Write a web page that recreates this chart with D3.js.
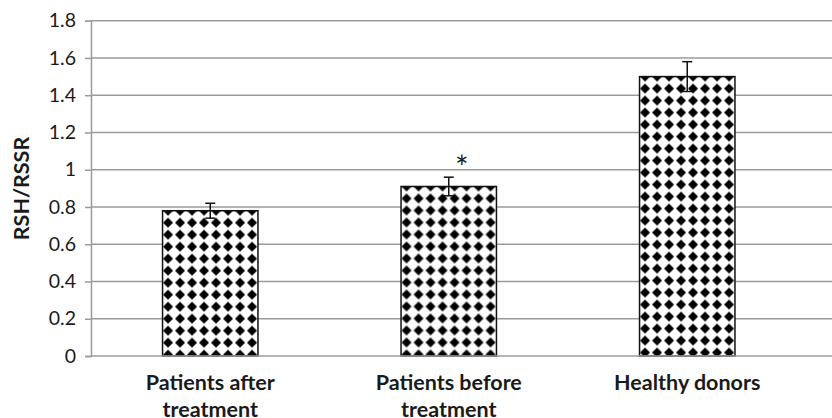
<!DOCTYPE html>
<html>
<head>
<meta charset="utf-8">
<script src="https://cdn.jsdelivr.net/npm/d3@7"></script>
<style>
  html, body { margin: 0; padding: 0; background: #fff; }
  svg { display: block; }
  text { font-family: Lato, "Open Sans", sans-serif; fill: #1a1a1a; }
</style>
</head>
<body>
<svg id="chart" width="832" height="418"></svg>
<script>
// Group labels (two lines each), mean RSH/RSSR and error
const categories = [["Patients after", "treatment"], ["Patients before", "treatment"], ["Healthy donors"]];
const values = [0.78, 0.91, 1.50];
const errors = [0.04, 0.05, 0.08];
const significance = ["", "*", ""];
const yTicks = [0, 0.2, 0.4, 0.6, 0.8, 1, 1.2, 1.4, 1.6, 1.8];
const yLabel = "RSH/RSSR";

const svg = d3.select("#chart");
const plotLeft = 91, plotRight = 806.5, plotTop = 20.7, plotBottom = 356;

const x = d3.scaleBand().domain(d3.range(categories.length)).range([plotLeft, plotRight]).paddingInner(0.6).paddingOuter(0.3);
const y = d3.scaleLinear().domain([0, 1.8]).range([plotBottom, plotTop]);

// Diamond fill, one tile per bar: first row of diamonds sits centred on the bar top
const defs = svg.append("defs");
const tile = 12;
values.forEach((v, i) => {
  const p = defs.append("pattern")
    .attr("id", "dia" + i)
    .attr("patternUnits", "userSpaceOnUse")
    .attr("width", tile).attr("height", tile)
    .attr("x", x(i) - 0.5).attr("y", y(v) - tile / 2);
  p.append("rect").attr("width", tile).attr("height", tile).attr("fill", "#fff");
  p.append("path").attr("d", `M6,1 L11,6 L6,11 L1,6 Z`).attr("fill", "#000");
});

// Horizontal gridlines
svg.append("g").selectAll("line").data(yTicks.filter(d => d > 0)).join("line")
  .attr("x1", plotLeft).attr("x2", 832)
  .attr("y1", d => y(d)).attr("y2", d => y(d))
  .attr("stroke", "#9a9a9a").attr("stroke-width", 1.5);

// Bars
svg.append("g").selectAll("rect").data(values).join("rect")
  .attr("x", (d, i) => x(i)).attr("width", x.bandwidth())
  .attr("y", d => y(d)).attr("height", d => y(0) - y(d))
  .attr("fill", (d, i) => `url(#dia${i})`)
  .attr("stroke", "#111").attr("stroke-width", 1.5);

// Baseline and y axis
svg.append("line").attr("x1", plotLeft).attr("x2", 832).attr("y1", y(0)).attr("y2", y(0))
  .attr("stroke", "#9a9a9a").attr("stroke-width", 1.5);

const yAxis = d3.axisLeft(y).tickValues(yTicks).tickSize(6).tickPadding(9)
  .tickFormat(d => d3.format("")(+d.toFixed(1)));
const ga = svg.append("g").attr("transform", `translate(${plotLeft},0)`).call(yAxis);
ga.select(".domain").attr("stroke", "#9a9a9a").attr("stroke-width", 1.5);
ga.selectAll(".tick line").attr("stroke", "#9a9a9a").attr("stroke-width", 1.5);
ga.selectAll(".tick text").attr("font-size", 19.5).attr("fill", "#1a1a1a")
  .attr("font-family", "Lato, 'Open Sans', sans-serif");

// Error bars
const eb = svg.append("g").attr("stroke", "#111").attr("stroke-width", 1.5);
values.forEach((v, i) => {
  const cx = x(i) + x.bandwidth() / 2;
  const cw = 5;
  eb.append("line").attr("x1", cx).attr("x2", cx).attr("y1", y(v + errors[i])).attr("y2", y(v - errors[i]));
  eb.append("line").attr("x1", cx - cw).attr("x2", cx + cw).attr("y1", y(v + errors[i])).attr("y2", y(v + errors[i]));
  eb.append("line").attr("x1", cx - cw).attr("x2", cx + cw).attr("y1", y(v - errors[i])).attr("y2", y(v - errors[i]));
});

// Significance mark
svg.append("g").selectAll("text").data(significance).join("text")
  .attr("x", (d, i) => x(i) + x.bandwidth() / 2 + 13)
  .attr("y", (d, i) => y(values[i] + errors[i]) + 2)
  .attr("text-anchor", "middle").attr("font-size", 32)
  .attr("font-family", "'DejaVu Sans', sans-serif")
  .text(d => d);

// Category labels
const cl = svg.append("g").selectAll("text").data(categories).join("text")
  .attr("x", (d, i) => x(i) + x.bandwidth() / 2)
  .attr("y", 389.5)
  .attr("text-anchor", "middle").attr("font-size", 21.5).attr("font-weight", "bold");
cl.selectAll("tspan").data(d => d).join("tspan")
  .attr("x", function () { return d3.select(this.parentNode).attr("x"); })
  .attr("dy", (d, j) => j === 0 ? 0 : 27)
  .text(d => d);

// Y axis title
svg.append("text")
  .attr("transform", `translate(29,188.5) rotate(-90)`)
  .attr("text-anchor", "middle").attr("font-size", 21.5).attr("font-weight", "bold")
  .text(yLabel);
</script>
</body>
</html>
